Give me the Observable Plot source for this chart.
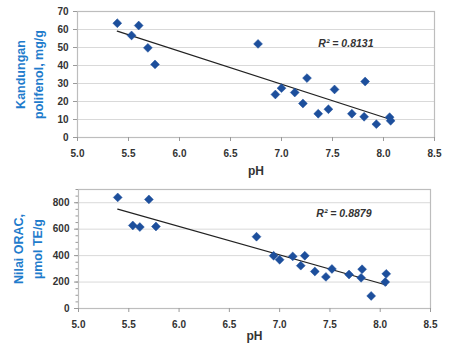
<!DOCTYPE html>
<html>
<head>
<meta charset="utf-8">
<script src="https://cdn.jsdelivr.net/npm/d3@7"></script>
<script src="https://cdn.jsdelivr.net/npm/@observablehq/plot@0.6"></script>
<style>
  body { margin: 0; background: #fff; }
  #wrap { width: 452px; height: 352px; position: relative; }
  #wrap svg { display: block; }
</style>
</head>
<body>
<div id="wrap"><div id="top"></div><div id="bot"></div></div>
<script>
// ---- data ----
const phPolifenol = [5.39, 5.53, 5.60, 5.69, 5.76, 6.77, 6.94, 7.00, 7.13, 7.21, 7.25, 7.36, 7.46, 7.52, 7.69, 7.82, 7.81, 7.93, 8.06, 8.07];
const polifenol   = [63.5, 56.7, 62.2, 49.8, 40.6, 52.0, 23.9, 27.4, 25.0, 18.9, 33.0, 13.2, 15.7, 26.7, 13.2, 31.1, 11.5, 7.4, 11.3, 9.3];

const phOrac = [5.39, 5.54, 5.61, 5.70, 5.77, 6.77, 6.94, 7.00, 7.13, 7.21, 7.25, 7.35, 7.46, 7.52, 7.69, 7.81, 7.82, 7.91, 8.05, 8.06];
const orac   = [840, 628, 616, 825, 620, 543, 399, 369, 394, 324, 399, 280, 239, 299, 257, 232, 297, 95, 200, 262];

const xTicks = [5.0, 5.5, 6.0, 6.5, 7.0, 7.5, 8.0, 8.5];
const yTicksTop = [0, 10, 20, 30, 40, 50, 60, 70];
const yTicksBot = [0, 200, 400, 600, 800];
const yMinorBot = [0, 50, 100, 150, 200, 250, 300, 350, 400, 450, 500, 550, 600, 650, 700, 750, 800, 850, 900];

const xLabel = "pH";
const yLabelTop = ["Kandungan", "polifenol, mg/g"];
const yLabelBot = ["Nilai ORAC,", "µmol TE/g"];
const r2Top = "R² = 0.8131";
const r2Bot = "R² = 0.8879";

const dataTop = phPolifenol.map((x, i) => ({x, y: polifenol[i]}));
const dataBot = phOrac.map((x, i) => ({x, y: orac[i]}));

const FONT = "'Liberation Sans', Arial, sans-serif";
const pointColor = "#1d4f9c";
const labelBlue = "#1f7ccc";
const gridColor = "#d9d9d9";

function panel({data, yDomain, yTicks, yMinor, ylab, r2, margins, r2dx, r2dy, phdy}) {
  const marks = [
    Plot.gridY(yTicks.concat([yDomain[1]]), {stroke: gridColor, strokeOpacity: 1, strokeWidth: 1}),
    Plot.frame({stroke: "#bdbdbd", strokeWidth: 1.2}),
  ];
  if (yMinor) {
    marks.push(Plot.axisY(yMinor, {tickSize: 2.5, text: null, stroke: "#9a9a9a", label: null}));
  }
  marks.push(
    Plot.axisY(yTicks, {tickSize: 4, tickPadding: 5, stroke: "#9a9a9a", fill: "#333", fontSize: 10, fontWeight: "bold", label: null}),
    Plot.axisX(xTicks, {tickSize: 4, tickPadding: 8, stroke: "#9a9a9a", fill: "#333", fontSize: 10, fontWeight: "bold", tickFormat: d3.format(".1f"), label: null}),
    Plot.linearRegressionY(data, {x: "x", y: "y", ci: 0, stroke: "#222", strokeWidth: 1.2}),
    Plot.dot(data, {x: "x", y: "y", symbol: "diamond2", r: 4, fill: pointColor, stroke: pointColor, strokeWidth: 0.5}),
    Plot.text([r2], {frameAnchor: "top-right", text: d => d, dx: r2dx, dy: r2dy, textAnchor: "end", fontStyle: "italic", fontWeight: "bold", fontSize: 10.5, fill: "#333"}),
    Plot.text([xLabel], {frameAnchor: "bottom", text: d => d, dy: phdy, fontWeight: "bold", fontSize: 12, fill: "#333"}),
    Plot.text([ylab[0]], {frameAnchor: "left", text: d => d, dx: ylab.dx0, rotate: -90, textAnchor: "middle", lineAnchor: "middle", fontWeight: "bold", fontSize: 12.5, fill: labelBlue}),
    Plot.text([ylab[1]], {frameAnchor: "left", text: d => d, dx: ylab.dx1, rotate: -90, textAnchor: "middle", lineAnchor: "middle", fontWeight: "bold", fontSize: 12.5, fill: labelBlue})
  );
  return Plot.plot({
    width: 452,
    height: 176,
    ...margins,
    style: {fontFamily: FONT, background: "white", overflow: "visible"},
    x: {domain: [5, 8.5]},
    y: {domain: yDomain},
    marks
  });
}

const ylTop = Object.assign([...yLabelTop], {dx0: -57, dx1: -39});
const ylBot = Object.assign([...yLabelBot], {dx0: -60, dx1: -41});

document.getElementById("top").appendChild(panel({
  data: dataTop, yDomain: [0, 70], yTicks: yTicksTop, yMinor: null, ylab: ylTop, r2: r2Top,
  margins: {marginLeft: 77, marginRight: 18, marginTop: 11, marginBottom: 39},
  r2dx: -61, r2dy: 28, phdy: 37
}));
document.getElementById("bot").appendChild(panel({
  data: dataBot, yDomain: [0, 900], yTicks: yTicksBot, yMinor: yMinorBot, ylab: ylBot, r2: r2Bot,
  margins: {marginLeft: 78, marginRight: 22, marginTop: 13, marginBottom: 44},
  r2dx: -59, r2dy: 20, phdy: 31
}));
</script>
</body>
</html>
